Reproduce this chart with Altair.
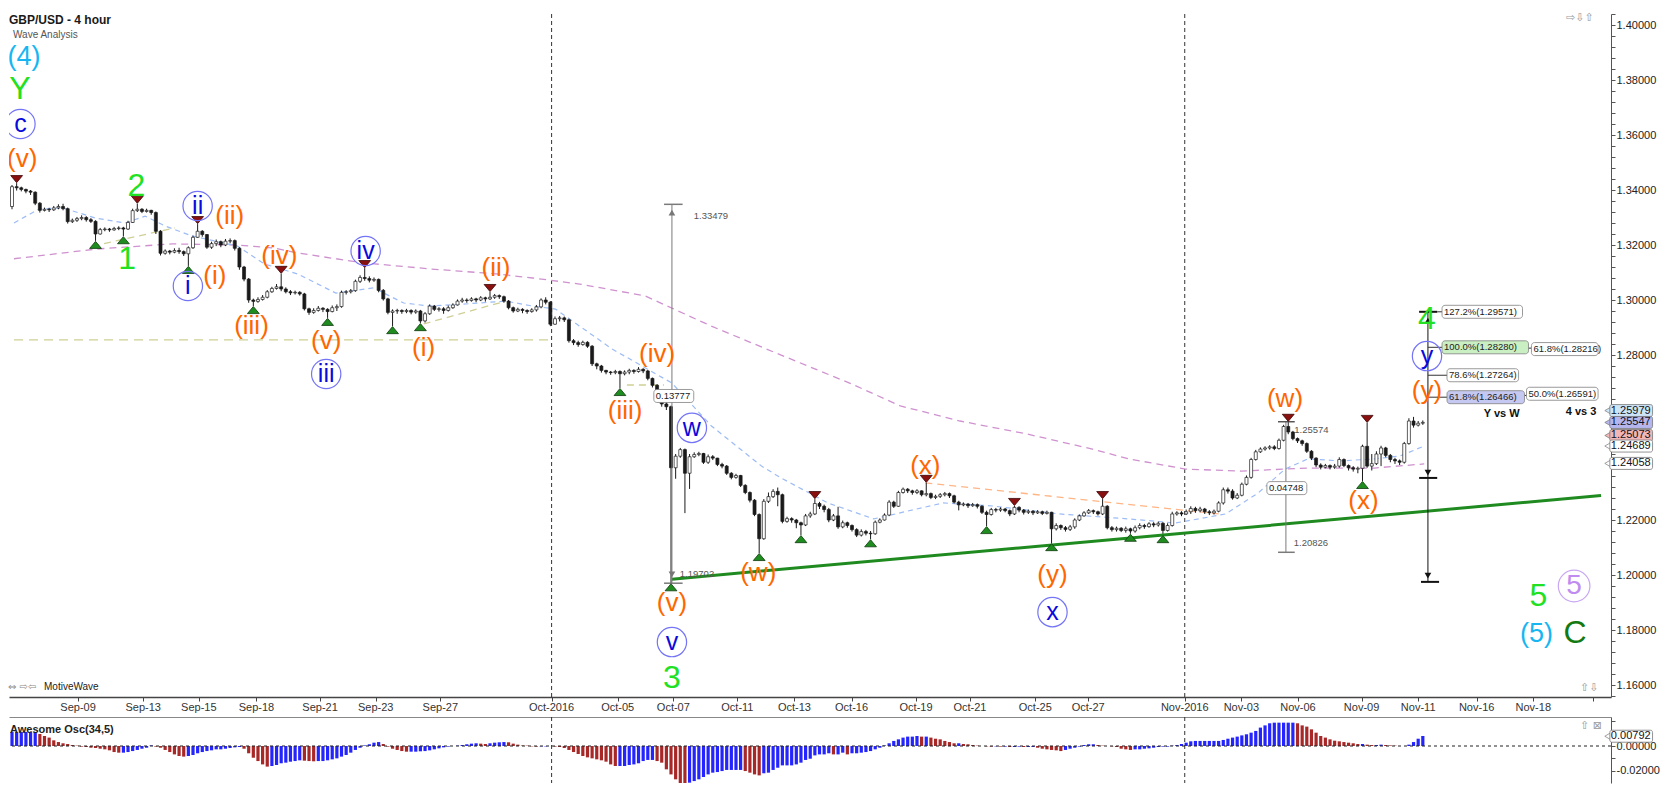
import altair as alt
import pandas as pd
import numpy as np

FONT = "Liberation Sans, Arial, Helvetica, sans-serif"
SYM = "DejaVu Sans"

# ---------------- candle data (4-hour bars) ----------------
OPEN0 = 1.3340
close = [
1.3412,1.3408,1.3402,1.3396,1.3392,1.3352,1.3326,1.3330,1.3328,1.3335,
1.3340,1.3332,1.3285,1.3290,1.3296,1.3300,1.3292,1.3286,1.3240,1.3256,
1.3258,1.3255,1.3260,1.3262,1.3258,1.3282,1.3325,1.3330,1.3322,1.3326,
1.3318,1.3250,1.3170,1.3178,1.3174,1.3180,1.3176,1.3168,1.3190,1.3228,
1.3250,1.3238,1.3192,1.3205,1.3212,1.3200,1.3214,1.3216,1.3188,1.3120,
1.3076,1.3000,1.2995,1.3002,1.3010,1.3030,1.3042,1.3048,1.3040,1.3030,
1.3026,1.3028,1.3022,1.2968,1.2955,1.2962,1.2970,1.2966,1.2958,1.2972,
1.2976,1.3028,1.3030,1.3034,1.3068,1.3082,1.3078,1.3072,1.3075,1.3035,
1.3004,1.2955,1.2960,1.2962,1.2958,1.2962,1.2956,1.2960,1.2924,1.2950,
1.2978,1.2966,1.2968,1.2962,1.2972,1.2982,1.2996,1.3000,1.2998,1.3004,
1.3000,1.3008,1.3004,1.3010,1.3016,1.3012,1.2996,1.2972,1.2960,1.2966,
1.2962,1.2958,1.2964,1.2975,1.3000,1.2992,1.2912,1.2932,1.2935,1.2928,
1.2852,1.2845,1.2838,1.2846,1.2832,1.2768,1.2760,1.2744,1.2738,1.2736,
1.2740,1.2732,1.2738,1.2744,1.2740,1.2748,1.2742,1.2715,1.2690,1.2640,
1.2622,1.2612,1.2390,1.2432,1.2456,1.2370,1.2430,1.2438,1.2442,1.2410,
1.2430,1.2425,1.2402,1.2396,1.2370,1.2355,1.2362,1.2326,1.2300,1.2272,
1.2220,1.2132,1.2268,1.2285,1.2304,1.2292,1.2195,1.2205,1.2200,1.2190,
1.2182,1.2215,1.2222,1.2260,1.2250,1.2238,1.2200,1.2215,1.2175,1.2190,
1.2180,1.2165,1.2145,1.2158,1.2152,1.2150,1.2192,1.2200,1.2218,1.2265,
1.2250,1.2300,1.2312,1.2306,1.2300,1.2306,1.2292,1.2296,1.2282,1.2286,
1.2292,1.2296,1.2288,1.2265,1.2255,1.2258,1.2252,1.2256,1.2250,1.2228,
1.2220,1.2238,1.2236,1.2240,1.2234,1.2222,1.2246,1.2236,1.2228,1.2232,
1.2226,1.2230,1.2224,1.2228,1.2168,1.2180,1.2172,1.2166,1.2175,1.2200,
1.2215,1.2226,1.2234,1.2230,1.2222,1.2250,1.2172,1.2165,1.2170,1.2162,
1.2168,1.2160,1.2172,1.2180,1.2176,1.2186,1.2182,1.2188,1.2162,1.2180,
1.2222,1.2226,1.2222,1.2230,1.2242,1.2234,1.2240,1.2230,1.2226,1.2232,
1.2262,1.2310,1.2305,1.2280,1.2290,1.2330,1.2355,1.2420,1.2448,1.2458,
1.2462,1.2466,1.2460,1.2490,1.2540,1.2520,1.2496,1.2488,1.2478,1.2450,
1.2425,1.2400,1.2392,1.2398,1.2392,1.2396,1.2420,1.2398,1.2390,1.2385,
1.2388,1.2468,1.2396,1.2405,1.2440,1.2462,1.2435,1.2420,1.2415,1.2410,
1.2478,1.2560,1.2545,1.2552,1.2555]
high = [
1.3418,1.3425,1.3412,1.3405,1.3400,1.3395,1.3356,1.3336,1.3335,1.3342,
1.3348,1.3350,1.3336,1.3296,1.3302,1.3308,1.3305,1.3298,1.3290,1.3262,
1.3264,1.3262,1.3266,1.3268,1.3266,1.3288,1.3332,1.3350,1.3334,1.3332,
1.3328,1.3322,1.3254,1.3184,1.3182,1.3188,1.3190,1.3180,1.3195,1.3234,
1.3276,1.3254,1.3240,1.3212,1.3220,1.3216,1.3222,1.3224,1.3220,1.3192,
1.3124,1.3080,1.3005,1.3010,1.3018,1.3036,1.3048,1.3058,1.3095,1.3046,
1.3036,1.3034,1.3032,1.3026,1.2972,1.2970,1.2978,1.2974,1.2970,1.2980,
1.2984,1.3034,1.3036,1.3040,1.3074,1.3090,1.3116,1.3086,1.3082,1.3078,
1.3040,1.3008,1.2966,1.2968,1.2966,1.2968,1.2966,1.2966,1.2964,1.2956,
1.2984,1.2982,1.2974,1.2974,1.2980,1.2988,1.3002,1.3008,1.3006,1.3010,
1.3008,1.3014,1.3012,1.3029,1.3022,1.3020,1.3016,1.3000,1.2976,1.2972,
1.2970,1.2966,1.2970,1.2982,1.3006,1.3010,1.2996,1.2940,1.2942,1.2940,
1.2932,1.2858,1.2852,1.2852,1.2850,1.2836,1.2772,1.2764,1.2746,1.2742,
1.2746,1.2744,1.2744,1.2750,1.2748,1.2756,1.2752,1.2746,1.2718,1.2694,
1.2644,1.2628,1.2616,1.2440,1.2462,1.2460,1.2440,1.2446,1.2448,1.2444,
1.2438,1.2436,1.2426,1.2408,1.2400,1.2374,1.2368,1.2364,1.2330,1.2304,
1.2276,1.2224,1.2276,1.2300,1.2312,1.2318,1.2296,1.2212,1.2210,1.2204,
1.2194,1.2222,1.2230,1.2276,1.2266,1.2256,1.2244,1.2222,1.2248,1.2198,
1.2194,1.2184,1.2170,1.2166,1.2164,1.2160,1.2198,1.2206,1.2224,1.2272,
1.2270,1.2306,1.2318,1.2316,1.2310,1.2312,1.2308,1.2335,1.2300,1.2292,
1.2298,1.2302,1.2300,1.2292,1.2270,1.2264,1.2262,1.2262,1.2260,1.2254,
1.2234,1.2244,1.2244,1.2246,1.2244,1.2238,1.2251,1.2250,1.2240,1.2238,
1.2236,1.2236,1.2234,1.2234,1.2230,1.2188,1.2184,1.2178,1.2182,1.2206,
1.2220,1.2232,1.2240,1.2238,1.2234,1.2276,1.2254,1.2178,1.2176,1.2174,
1.2176,1.2172,1.2180,1.2188,1.2186,1.2192,1.2192,1.2194,1.2192,1.2188,
1.2230,1.2232,1.2232,1.2238,1.2250,1.2248,1.2248,1.2244,1.2236,1.2238,
1.2268,1.2318,1.2318,1.2312,1.2298,1.2336,1.2362,1.2426,1.2455,1.2464,
1.2468,1.2472,1.2472,1.2496,1.2546,1.2557,1.2524,1.2500,1.2492,1.2482,
1.2454,1.2428,1.2406,1.2404,1.2402,1.2404,1.2428,1.2424,1.2402,1.2396,
1.2394,1.2474,1.2553,1.2440,1.2450,1.2470,1.2466,1.2440,1.2426,1.2420,
1.2484,1.2570,1.2575,1.2560,1.2562]
low = [
1.3330,1.3398,1.3395,1.3388,1.3382,1.3345,1.3318,1.3322,1.3320,1.3324,
1.3330,1.3326,1.3278,1.3280,1.3284,1.3290,1.3285,1.3280,1.3215,1.3238,
1.3250,1.3248,1.3252,1.3254,1.3232,1.3255,1.3280,1.3320,1.3316,1.3318,
1.3310,1.3240,1.3162,1.3165,1.3166,1.3170,1.3168,1.3160,1.3124,1.3186,
1.3226,1.3230,1.3186,1.3186,1.3196,1.3192,1.3196,1.3206,1.3180,1.3110,
1.3068,1.2990,1.2978,1.2990,1.2998,1.3006,1.3026,1.3038,1.3032,1.3024,
1.3018,1.3020,1.3016,1.2962,1.2946,1.2950,1.2958,1.2956,1.2935,1.2955,
1.2960,1.2972,1.3020,1.3024,1.3030,1.3062,1.3070,1.3064,1.3066,1.3028,
1.2998,1.2948,1.2905,1.2950,1.2950,1.2952,1.2948,1.2950,1.2916,1.2918,
1.2946,1.2960,1.2958,1.2950,1.2958,1.2968,1.2980,1.2990,1.2990,1.2994,
1.2992,1.2996,1.2994,1.3000,1.3004,1.3004,1.2990,1.2966,1.2954,1.2956,
1.2952,1.2950,1.2954,1.2958,1.2970,1.2984,1.2905,1.2910,1.2922,1.2920,
1.2845,1.2836,1.2830,1.2834,1.2826,1.2760,1.2748,1.2736,1.2730,1.2728,
1.2730,1.2680,1.2726,1.2730,1.2732,1.2736,1.2734,1.2708,1.2682,1.2632,
1.2612,1.2600,1.1970,1.2350,1.2426,1.2225,1.2313,1.2426,1.2432,1.2404,
1.2404,1.2418,1.2396,1.2388,1.2364,1.2348,1.2350,1.2320,1.2294,1.2264,
1.2214,1.2080,1.2128,1.2262,1.2280,1.2250,1.2188,1.2190,1.2190,1.2170,
1.2145,1.2178,1.2208,1.2218,1.2240,1.2228,1.2192,1.2196,1.2168,1.2170,
1.2172,1.2158,1.2138,1.2140,1.2144,1.2130,1.2146,1.2188,1.2198,1.2214,
1.2244,1.2248,1.2296,1.2298,1.2292,1.2294,1.2286,1.2286,1.2276,1.2276,
1.2280,1.2286,1.2280,1.2260,1.2235,1.2250,1.2244,1.2248,1.2242,1.2222,
1.2178,1.2216,1.2228,1.2230,1.2228,1.2214,1.2218,1.2228,1.2220,1.2222,
1.2218,1.2222,1.2218,1.2220,1.2116,1.2162,1.2164,1.2158,1.2160,1.2168,
1.2196,1.2212,1.2222,1.2222,1.2216,1.2218,1.2166,1.2158,1.2158,1.2156,
1.2154,1.2150,1.2154,1.2166,1.2168,1.2172,1.2174,1.2176,1.2145,1.2158,
1.2176,1.2216,1.2214,1.2218,1.2222,1.2226,1.2228,1.2222,1.2218,1.2220,
1.2228,1.2256,1.2296,1.2274,1.2276,1.2286,1.2326,1.2350,1.2416,1.2444,
1.2452,1.2456,1.2454,1.2456,1.2486,1.2512,1.2490,1.2480,1.2470,1.2444,
1.2418,1.2392,1.2384,1.2388,1.2384,1.2386,1.2390,1.2392,1.2380,1.2376,
1.2370,1.2342,1.2390,1.2380,1.2400,1.2396,1.2428,1.2410,1.2404,1.2400,
1.2405,1.2474,1.2536,1.2540,1.2546]

# Awesome oscillator, in units of 0.0001
ao_e4 = [
113,113,113,113,113,113,97,81,68,46,
32,22,16,8,3,-5,-8,-14,-16,-22,
-27,-35,-49,-54,-54,-49,-41,-32,-22,-14,
5,-5,-14,-32,-49,-68,-81,-86,-81,-73,
-59,-49,-41,-35,-27,-27,-22,-16,-11,-8,
-22,-59,-95,-122,-149,-167,-162,-154,-140,-135,
-127,-122,-116,-119,-122,-124,-122,-122,-116,-108,
-100,-86,-73,-54,-32,-14,5,14,27,32,
16,-5,-22,-32,-41,-46,-46,-46,-43,-41,
-35,-27,-19,-11,-5,0,3,8,14,19,
22,19,16,22,27,30,32,30,19,11,
5,3,-3,-5,-3,-3,
0,-5,-8,-16,-32,-49,-65,-81,-92,-100,
-108,-116,-127,-149,-162,-162,-162,-154,-149,-140,
-122,-113,-113,-122,-135,-189,-230,-270,-311,-329,
-297,-284,-270,-251,-230,-216,-211,-203,-194,-194,
-194,-194,-203,-216,-230,-238,-221,-216,-194,
-176,-157,-157,-157,-149,-135,-113,-103,-76,-68,
-68,-59,-68,-68,-54,-68,-59,-59,-54,
-49,-41,-27,-14,5,22,41,54,68,76,
76,81,76,76,68,59,54,41,32,22,
22,16,14,8,3,0,-3,-5,-3,-5,
-5,-8,-8,-5,-8,-8,-8,-14,-22,-27,
-32,-35,-41,-32,-22,-14,-5,8,14,14,
8,3,0,-3,
-8,-22,-27,-32,-27,-27,-22,-19,-14,-8,
-5,-5,3,8,16,27,38,41,41,41,
41,41,41,49,59,68,76,86,95,108,
122,149,167,184,189,189,189,189,189,
184,167,157,135,108,81,68,54,43,38,
32,27,22,16,16,11,8,8,11,8,
5,3,0,0,11,32,59,81]

# date axis (bar index of each tick) and labels
date_pos = [14.24, 28.27, 40.26, 52.68, 66.38, 78.37, 92.29, 116.27, 130.5, 142.5,
            156.3, 168.6, 180.9, 194.8, 206.4, 220.5, 231.9, 252.7, 264.9, 277.1,
            290.8, 303.0, 315.6, 327.8, 340.7]
date_lab = ["Sep-09", "Sep-13", "Sep-15", "Sep-18", "Sep-21", "Sep-23", "Sep-27", "Oct-2016",
            "Oct-05", "Oct-07", "Oct-11", "Oct-13", "Oct-16", "Oct-19", "Oct-21", "Oct-25",
            "Oct-27", "Nov-2016", "Nov-03", "Nov-06", "Nov-09", "Nov-11", "Nov-16", "Nov-18", ""]
month_pos = [116.27, 252.7]

# moving averages
ma_slow_i = [0.43, 18, 34.5, 48.6, 56.5, 61.5, 75.8, 90.1, 104.3, 112.2, 122.3, 136.4, 150.7,
             165.1, 180.9, 191.4, 204.3, 218.6, 232.8, 240.7, 252.9, 264.9, 279.2, 293.6, 304.3]
ma_slow_p = [1.3150, 1.3185, 1.3204, 1.3200, 1.3189, 1.3171, 1.3135, 1.3113, 1.3095, 1.3080,
             1.3058, 1.3015, 1.2905, 1.2804, 1.2695, 1.2615, 1.2560, 1.2513, 1.2458, 1.2422,
             1.2385, 1.2378, 1.2389, 1.2389, 1.2404]
ma_fast_i = [0.43, 5.8, 10.9, 18, 24.4, 28.7, 33, 38.8, 48.6, 54.4, 61.5, 69.8, 77.9, 84.4, 90.1,
             97.2, 106.4, 112.2, 117.1, 129.3, 142.2, 150.7, 161.5, 165.7, 175.8, 185.7, 200.6,
             211.3, 225.7, 240.7, 250.7, 261.5, 268.5, 274.3, 279.2, 286.3, 293.6, 299.1, 304.3]
ma_fast_p = [1.3280, 1.3331, 1.3335, 1.3298, 1.3280, 1.3305, 1.3269, 1.3233, 1.3196, 1.3131,
             1.3095, 1.3025, 1.3044, 1.2989, 1.2978, 1.2985, 1.2996, 1.2978, 1.2967, 1.2822,
             1.2698, 1.2542, 1.2396, 1.2353, 1.2262, 1.2204, 1.2262, 1.2251, 1.2222, 1.2204,
             1.2189, 1.2222, 1.2298, 1.2385, 1.2422, 1.2415, 1.2422, 1.2433, 1.2469]

# swing markers (bar index)
green_tri = [18, 24, 38, 52, 68, 82, 88, 131, 142, 161, 170, 185, 210, 224, 241, 248, 291]
red_tri = [1, 27, 40, 58, 76, 103, 173, 197, 216, 235, 275, 292]

# wave labels
wave_txt = ["(4)", "Y", "c", "(v)", "2", "1", "ii", "i", "(ii)", "(i)", "(iii)", "(iv)",
            "(v)", "iii", "iv", "(i)", "(ii)", "(iii)", "(iv)", "w", "(v)", "v", "3", "(w)",
            "(x)", "(y)", "x", "(w)", "(x)", "4", "y", "(y)", "5", "5", "(5)", "C"]
wave_i = [2.6, 1.71, 1.82, 2.2, 26.8, 24.8, 40.0, 37.9, 46.9, 43.7, 51.6, 57.6,
          67.7, 67.7, 76.2, 88.7, 104.3, 132.1, 139.0, 146.5, 142.2, 142.2, 142.2, 160.8,
          196.8, 224.2, 224.2, 274.3, 291.2, 304.9, 304.9, 304.9, 328.9, 336.6, 328.5, 336.8]
wave_p = [1.3885, 1.3767, 1.3640, 1.3513, 1.3415, 1.3149, 1.3342, 1.3051, 1.3305, 1.3087, 1.2905, 1.3160,
          1.2851, 1.2731, 1.3178, 1.2825, 1.3116, 1.2596, 1.2804, 1.2535, 1.1898, 1.1756, 1.1625, 1.2007,
          1.2396, 1.2000, 1.1865, 1.2640, 1.2269, 1.2931, 1.2796, 1.2669, 1.1924, 1.1960, 1.1785, 1.1789]
wave_kind = ["cyan", "green", "blue", "orange", "green", "green", "blue", "blue", "orange", "orange", "orange", "orange",
             "orange", "blue", "blue", "orange", "orange", "orange", "orange", "blue", "orange", "blue", "green", "orange",
             "orange", "orange", "blue", "orange", "orange", "green", "blue", "orange", "green", "lav", "cyan", "dkgreen"]

# fibonacci / measurement boxes
box_lab = ["127.2%(1.29571)", "100.0%(1.28280)", "78.6%(1.27264)", "61.8%(1.26466)",
           "61.8%(1.28216)", "50.0%(1.26591)", "0.13777", "0.04748"]
box_p = [1.29571, 1.28280, 1.27264, 1.26466, 1.28216, 1.26591, 1.2651, 1.2316]
box_x0 = [308.14, 308.14, 309.21, 309.21, 327.41, 326.34, 138.3, 270.4]
box_x1 = [325.48, 326.77, 324.63, 325.91, 341.76, 341.76, 146.9, 279.0]
box_fill = ["#ffffff", "#c9efc2", "#ffffff", "#c5c9f2", "#ffffff", "#ffffff", "#ffffff", "#ffffff"]

# price tags on the right axis
tag_lab = ["1.25979", "1.25547", "1.25073", "1.24689", "1.24058"]
tag_p = [1.25979, 1.25547, 1.25073, 1.24689, 1.24058]
tag_fill = ["#cde6f7", "#b6b6ee", "#f2b6b6", "#ffffff", "#ffffff"]

# ---------------- frames ----------------
n = len(close)
opens = [OPEN0] + close[:-1]
hi = [max(h, o, c) for h, o, c in zip(high, opens, close)]
lo = [min(l, o, c) for l, o, c in zip(low, opens, close)]
candles = pd.DataFrame({"i": range(n), "o": opens, "c": close, "h": hi, "l": lo})
candles["fillc"] = np.where(candles["c"] >= candles["o"], "#ffffff", "#1a1a1a")

ao = np.array(ao_e4, dtype=float) / 1e4
ao_col = ["#2424ff"] + ["#2424ff" if ao[k] >= ao[k - 1] else "#a82828" for k in range(1, len(ao))]
osc = pd.DataFrame({"i": range(len(ao)), "ao": ao, "z": 0.0, "col": ao_col})

W, H = 1602, 683
OH = 66
XS = alt.Scale(domain=[0.43, 343.47], nice=False, zero=False)
YS = alt.Scale(domain=[1.15564, 1.404], nice=False, zero=False)
OYS = alt.Scale(domain=[-0.02997, 0.02349], nice=False, zero=False)

y_ticks = [round(1.156 + 0.004 * k, 3) for k in range(63)]
x_axis = alt.Axis(values=date_pos, labels=False, ticks=True, tickSize=4, tickColor="#444",
                  domainColor="#444", domainWidth=1.5, grid=False, orient="bottom", title=None)
y_axis = alt.Axis(orient="right", values=y_ticks, tickSize=4, tickColor="#555", domainColor="#555",
                  labelFont=FONT, labelFontSize=11, labelColor="#222", labelPadding=1, grid=False,
                  title=None, labelOverlap=False, labelFlush=False,
                  labelExpr="(round(datum.value*1000) % 20 == 0 && round(datum.value*1000) != 1260 && round(datum.value*1000) != 1240) ? format(datum.value, '.5f') : ''")


def X(f):
    return alt.X(f, type="quantitative", scale=XS, axis=x_axis, title=None)


def Y(f):
    return alt.Y(f, type="quantitative", scale=YS, axis=y_axis, title=None)


layers = []

# vertical month separators
layers.append(alt.Chart(pd.DataFrame({"x": month_pos})).mark_rule(
    strokeDash=[4, 3], color="#333", strokeWidth=1).encode(x=X("x")))

# khaki dashed lines
layers.append(alt.Chart(pd.DataFrame({"x": [0.43], "x2": [116.27], "y": [1.2855]})).mark_rule(
    strokeDash=[9, 6], color="#cfcf96", strokeWidth=1.3).encode(x=X("x"), x2="x2:Q", y=Y("y")))
kh = pd.DataFrame({"x": [17.3, 88.7, 132.5], "y": [1.3196, 1.2913, 1.2691],
                   "x2": [35.1, 106.4, 140.5], "y2": [1.3262, 1.2996, 1.2691]})
layers.append(alt.Chart(kh).mark_rule(strokeDash=[7, 5], color="#cfcf96", strokeWidth=1.3, clip=True).encode(
    x=X("x"), y=Y("y"), x2="x2:Q", y2="y2:Q"))

# moving averages
layers.append(alt.Chart(pd.DataFrame({"i": ma_slow_i, "p": ma_slow_p})).mark_line(
    color="#cf92cf", strokeDash=[7, 5], strokeWidth=1.3, clip=True).encode(x=X("i"), y=Y("p")))
layers.append(alt.Chart(pd.DataFrame({"i": ma_fast_i, "p": ma_fast_p})).mark_line(
    color="#9dbcf5", strokeDash=[5, 4], strokeWidth=1.2, clip=True).encode(x=X("i"), y=Y("p")))

# peach dashed line
layers.append(alt.Chart(pd.DataFrame({"x": [196.8], "y": [1.2335], "x2": [260.0], "y2": [1.2222]})).mark_rule(
    strokeDash=[7, 5], color="#ffb585", strokeWidth=1.3).encode(x=X("x"), y=Y("y"), x2="x2:Q", y2="y2:Q"))

# candles
layers.append(alt.Chart(candles).mark_rule(color="#1a1a1a", strokeWidth=1, clip=True).encode(
    x=X("i"), y=Y("l"), y2="h:Q"))
layers.append(alt.Chart(candles).mark_bar(size=3, stroke="#1a1a1a", strokeWidth=0.7, clip=True).encode(
    x=X("i"), y=Y("o"), y2="c:Q", fill=alt.Fill("fillc:N", scale=None)))

# green trendline
layers.append(alt.Chart(pd.DataFrame({"x": [142.2], "y": [1.1985], "x2": [342.4], "y2": [1.2289]})).mark_rule(
    color="#1f8a1f", strokeWidth=3, clip=True).encode(x=X("x"), y=Y("y"), x2="x2:Q", y2="y2:Q"))

# measurement tools and fib connectors
seg = pd.DataFrame([
    (142.2, 1.33479, 142.2, 1.19702, "#7a7a7a", 1.0),
    (140.5, 1.33479, 144.5, 1.33479, "#7a7a7a", 1.5),
    (140.5, 1.19702, 144.5, 1.19702, "#7a7a7a", 1.5),
    (274.5, 1.25574, 274.5, 1.20826, "#7a7a7a", 1.0),
    (272.8, 1.25574, 276.4, 1.25574, "#555555", 1.5),
    (272.8, 1.20826, 276.4, 1.20826, "#7a7a7a", 1.5),
    (305.1, 1.29571, 305.1, 1.1975, "#111111", 1.0),
    (303.2, 1.29571, 307.1, 1.29571, "#111111", 2.0),
    (303.2, 1.2353, 307.1, 1.2353, "#111111", 2.0),
    (303.6, 1.1975, 307.5, 1.1975, "#111111", 2.0),
    (307.1, 1.29571, 308.14, 1.29571, "#333333", 1.0),
    (305.1, 1.28280, 308.14, 1.28280, "#333333", 1.0),
    (305.1, 1.27264, 309.21, 1.27264, "#333333", 1.0),
    (305.1, 1.26466, 309.21, 1.26466, "#333333", 1.0),
    (326.77, 1.2825, 327.41, 1.2825, "#333333", 1.0),
    (325.91, 1.2653, 326.34, 1.2653, "#333333", 1.0),
], columns=["x", "y", "x2", "y2", "col", "w"])
layers.append(alt.Chart(seg).mark_rule(clip=True).encode(
    x=X("x"), y=Y("y"), x2="x2:Q", y2="y2:Q",
    color=alt.Color("col:N", scale=None), strokeWidth=alt.StrokeWidth("w:Q", scale=None)))

arr = pd.DataFrame({"i": [305.1, 305.1, 305.1, 142.2, 142.2],
                    "p": [1.2925, 1.2372, 1.1998, 1.3318, 1.2002],
                    "shape": ["triangle-up", "triangle-down", "triangle-down", "triangle-up", "triangle-down"],
                    "col": ["#111111", "#111111", "#111111", "#777777", "#777777"]})
layers.append(alt.Chart(arr).mark_point(filled=True, size=45, opacity=1, clip=True).encode(
    x=X("i"), y=Y("p"), shape=alt.Shape("shape:N", scale=None), color=alt.Color("col:N", scale=None)))

mtxt = pd.DataFrame({"t": ["1.33479", "1.19702", "1.25574", "1.20826"],
                     "i": [146.9, 143.9, 276.3, 276.2], "p": [1.3306, 1.2004, 1.2527, 1.2116]})
layers.append(alt.Chart(mtxt).mark_text(font=FONT, fontSize=9.5, color="#555", align="left",
                                        baseline="middle", clip=True).encode(x=X("i"), y=Y("p"), text="t:N"))

# boxes
boxes = pd.DataFrame({"lab": box_lab, "p": box_p, "x0": box_x0, "x1": box_x1, "fill": box_fill})
layers.append(alt.Chart(boxes).mark_rect(stroke="#808080", strokeWidth=0.8, cornerRadius=3,
                                         yOffset=-6.5, y2Offset=6.5, clip=True).encode(
    x=X("x0"), x2="x1:Q", y=Y("p"), y2="p:Q", fill=alt.Fill("fill:N", scale=None)))
layers.append(alt.Chart(boxes).mark_text(font=FONT, fontSize=9.5, color="#222", align="left",
                                         baseline="middle", dx=2, clip=True).encode(
    x=X("x0"), y=Y("p"), text="lab:N"))

# Y vs W / 4 vs 3
vs = pd.DataFrame({"t": ["Y vs W", "4 vs 3"], "i": [321.0, 338.1], "p": [1.2585, 1.2593]})
layers.append(alt.Chart(vs).mark_text(font=FONT, fontSize=11, fontWeight="bold", color="#111",
                                      baseline="middle", clip=True).encode(x=X("i"), y=Y("p"), text="t:N"))

# swing triangles
gt = pd.DataFrame({"i": green_tri, "p": [lo[k] for k in green_tri]})
rt = pd.DataFrame({"i": red_tri, "p": [hi[k] for k in red_tri]})
layers.append(alt.Chart(gt).mark_point(shape="M-1,0.6L1,0.6L0,-0.6Z", filled=True, size=140, opacity=1,
                                       fill="#1e8c1e", stroke="#0f3a0f", strokeWidth=0.8, yOffset=4,
                                       clip=True).encode(x=X("i"), y=Y("p")))
layers.append(alt.Chart(rt).mark_point(shape="M-1,-0.6L1,-0.6L0,0.6Z", filled=True, size=140, opacity=1,
                                       fill="#8a1010", stroke="#3a0505", strokeWidth=0.8, yOffset=-4,
                                       clip=True).encode(x=X("i"), y=Y("p")))

# wave labels
kind_col = {"orange": "#ff6600", "green": "#22e022", "blue": "#0a0adc", "cyan": "#17b6f2",
            "dkgreen": "#137a13", "lav": "#c08cf0"}
kind_fs = {"orange": 26, "green": 32, "blue": 25, "cyan": 27, "dkgreen": 32, "lav": 28}
waves = pd.DataFrame({"t": wave_txt, "i": wave_i, "p": wave_p, "kind": wave_kind})
waves["col"] = waves["kind"].map(kind_col)
waves["fs"] = waves["kind"].map(kind_fs)
circ = waves[waves["kind"].isin(["blue", "lav"])].copy()
circ["ccol"] = np.where(circ["kind"] == "lav", "#c8a6f2", "#7474f6")
circ["sz"] = np.where(circ["kind"] == "lav", 1000, 860)
layers.append(alt.Chart(circ).mark_point(shape="circle", filled=False, strokeWidth=1.2, opacity=1,
                                         clip=True).encode(
    x=X("i"), y=Y("p"), color=alt.Color("ccol:N", scale=None), size=alt.Size("sz:Q", scale=None)))
layers.append(alt.Chart(waves).mark_text(font=FONT, align="center", baseline="middle", clip=True).encode(
    x=X("i"), y=Y("p"), text="t:N", color=alt.Color("col:N", scale=None), size=alt.Size("fs:Q", scale=None)))

# price tags beside the axis
tags = pd.DataFrame({"lab": tag_lab, "p": tag_p, "fill": tag_fill, "x0": 344.3, "x1": 353.5, "xa": 343.9})
layers.append(alt.Chart(tags).mark_point(shape="triangle-left", filled=True, size=55, opacity=1,
                                         stroke="#777", strokeWidth=0.7).encode(
    x=X("xa"), y=Y("p"), fill=alt.Fill("fill:N", scale=None)))
layers.append(alt.Chart(tags).mark_rect(stroke="#777", strokeWidth=0.8, cornerRadius=2,
                                        yOffset=-6, y2Offset=6).encode(
    x=X("x0"), x2="x1:Q", y=Y("p"), y2="p:Q", fill=alt.Fill("fill:N", scale=None)))
layers.append(alt.Chart(tags).mark_text(font=FONT, fontSize=11, color="#112", align="left",
                                        baseline="middle", dx=1).encode(x=X("x0"), y=Y("p"), text="lab:N"))

# date labels under the price panel
dates = pd.DataFrame({"pos": date_pos, "lab": date_lab})
layers.append(alt.Chart(dates).mark_text(font=FONT, fontSize=11, color="#333", align="center",
                                         baseline="middle").encode(x=X("pos"), y=alt.value(H + 11), text="lab:N"))


def ui_text(txt, px, py, size, color, weight="normal", font=FONT, align="left"):
    return alt.Chart(pd.DataFrame({"t": [txt]})).mark_text(
        text=txt, font=font, fontSize=size, color=color, fontWeight=weight, align=align,
        baseline="middle").encode(x=alt.value(px), y=alt.value(py))


layers.append(ui_text("GBP/USD - 4 hour", 0, 5.5, 12, "#1a1a1a", "bold"))
layers.append(ui_text("Wave Analysis", 4, 21, 10, "#555"))
layers.append(ui_text("\u21d4 \u21e8\u21e6", -1, 673, 10, "#888", font=SYM))
layers.append(ui_text("MotiveWave", 35, 673, 10, "#222"))
layers.append(ui_text("\u21e8\u21e9\u21e7", 1557, 4, 11, "#999", font=SYM))
layers.append(ui_text("\u21e7\u21e9", 1571, 674, 11, "#999", font=SYM))

price = alt.layer(*layers).properties(width=W, height=H)

# ---------------- oscillator panel ----------------
osc_x_axis = alt.Axis(orient="top", labels=False, ticks=False, domainColor="#888", domainWidth=1,
                      grid=False, title=None)
osc_y_axis = alt.Axis(orient="right", values=[-0.02, -0.01, 0.0, 0.01, 0.02], tickSize=4, tickColor="#555",
                      domainColor="#555", labelFont=FONT, labelFontSize=11, labelColor="#222",
                      labelPadding=1, grid=False, title=None, labelOverlap=False, labelFlush=False,
                      labelExpr="abs(datum.value) < 0.0001 ? '0.00000' : (abs(datum.value + 0.02) < 0.0001 ? '-0.02000' : '')")


def OX(f):
    return alt.X(f, type="quantitative", scale=XS, axis=osc_x_axis, title=None)


def OY(f):
    return alt.Y(f, type="quantitative", scale=OYS, axis=osc_y_axis, title=None)


olayers = []
olayers.append(alt.Chart(osc).mark_bar(size=3.2, clip=True).encode(
    x=OX("i"), y=OY("ao"), y2="z:Q", fill=alt.Fill("col:N", scale=None)))
olayers.append(alt.Chart(pd.DataFrame({"z": [0.0]})).mark_rule(
    strokeDash=[3, 3], color="#222", strokeWidth=1).encode(y=OY("z")))
olayers.append(alt.Chart(pd.DataFrame({"x": month_pos})).mark_rule(
    strokeDash=[4, 3], color="#333", strokeWidth=1).encode(x=OX("x")))
otag = pd.DataFrame({"lab": ["0.00792"], "v": [0.00792], "x0": [344.3], "x1": [353.5], "xa": [343.9]})
olayers.append(alt.Chart(otag).mark_point(shape="triangle-left", filled=True, size=55, opacity=1,
                                          stroke="#777", strokeWidth=0.7, fill="#ffffff").encode(x=OX("xa"), y=OY("v")))
olayers.append(alt.Chart(otag).mark_rect(stroke="#777", strokeWidth=0.8, cornerRadius=2, fill="#ffffff",
                                         yOffset=-6, y2Offset=6).encode(x=OX("x0"), x2="x1:Q", y=OY("v"), y2="v:Q"))
olayers.append(alt.Chart(otag).mark_text(font=FONT, fontSize=11, color="#112", align="left",
                                         baseline="middle", dx=1).encode(x=OX("x0"), y=OY("v"), text="lab:N"))
olayers.append(ui_text("Awesome Osc(34,5)", 1, 13, 11, "#222", "bold"))
olayers.append(ui_text("\u21e7 \u22a0", 1571, 9, 11, "#999", font=SYM))

oscc = alt.layer(*olayers).properties(width=W, height=OH)

chart = alt.vconcat(price, oscc, spacing=20, bounds="flush").properties(padding=0).configure_view(stroke=None)
chart.save("out.html", embed_options={"renderer": "svg", "actions": False})
